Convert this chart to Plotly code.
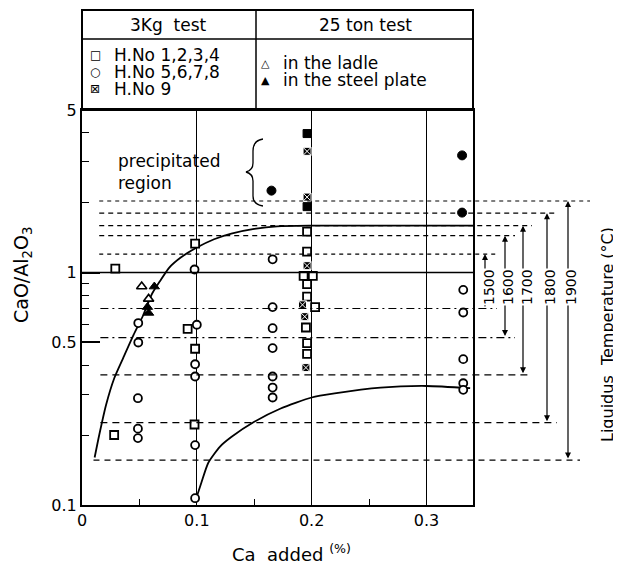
import numpy as np
import plotly.graph_objects as go

# ---------------- data ----------------
# H.No 1,2,3,4 (open squares)
sq_x = [0.029, 0.028, 0.0985, 0.092, 0.0985, 0.098,
        0.196, 0.196, 0.193, 0.201, 0.196, 0.196, 0.203, 0.195, 0.196, 0.196]
sq_y = [1.04, 0.20, 1.33, 0.572, 0.47, 0.222,
        1.50, 1.23, 0.968, 0.968, 0.891, 0.788, 0.71, 0.58, 0.497, 0.447]
# H.No 5,6,7,8 (open circles)
ci_x = [0.098, 0.049, 0.049, 0.100, 0.0985, 0.0985, 0.0487, 0.0487, 0.0487, 0.0985, 0.0985,
        0.166, 0.166, 0.166, 0.166, 0.166, 0.166, 0.166,
        0.332, 0.332, 0.332, 0.332, 0.332]
ci_y = [1.03, 0.606, 0.50, 0.596, 0.403, 0.357, 0.288, 0.213, 0.194, 0.181, 0.107,
        1.14, 0.71, 0.576, 0.473, 0.357, 0.32, 0.29,
        0.842, 0.673, 0.424, 0.334, 0.313]
# H.No 9 (hatched squares)
h9_x = [0.196, 0.196, 0.196, 0.192, 0.194, 0.195]
h9_y = [3.32, 2.11, 1.07, 0.726, 0.646, 0.39]
# precipitated samples (filled marks)
fsq_x = [0.196, 0.196]
fsq_y = [3.96, 1.92]
fci_x = [0.165, 0.331, 0.331]
fci_y = [2.25, 3.19, 1.81]
# 25 ton test
ladle_x = [0.052, 0.058]
ladle_y = [0.87, 0.77]
plate_x = [0.063, 0.057, 0.058]
plate_y = [0.87, 0.71, 0.67]

# boundary curves
up_x = [0.011, 0.015, 0.021, 0.028, 0.036, 0.045, 0.053, 0.061, 0.068, 0.076,
        0.086, 0.100, 0.115, 0.130, 0.150, 0.170, 0.200, 0.341]
up_y = [0.16, 0.20, 0.27, 0.35, 0.43, 0.54, 0.65, 0.81, 0.92, 1.05,
        1.16, 1.28, 1.39, 1.47, 1.54, 1.58, 1.59, 1.59]
lo_x = [0.099, 0.104, 0.110, 0.120, 0.130, 0.150, 0.173, 0.200, 0.220, 0.260, 0.300, 0.338]
lo_y = [0.105, 0.125, 0.152, 0.178, 0.196, 0.228, 0.260, 0.290, 0.302, 0.320, 0.325, 0.318]

# liquidus temperature ranges
temps = [1500, 1600, 1700, 1800, 1900]
t_top = [1.20, 1.44, 1.59, 1.80, 2.03]
t_bot = [0.70, 0.525, 0.363, 0.226, 0.156]

x_ticks = [0, 0.1, 0.2, 0.3]
x_labels = ["0", "0.1", "0.2", "0.3"]
y_ticks = [0.1, 0.5, 1, 5]
y_labels = ["0.1", "0.5", "1", "5"]

# ---------------- layout geometry ----------------
OFF = 8                      # page body margin of the browser
W, H = 621 - OFF, 566 - OFF
PL, PR, PT, PB = 82, 473, 110, 505   # plot frame in reference pixels
XMAX = 0.3405
FONT = "DejaVu Sans"


def px(x):
    return (x - PL) / (PR - PL)


def py(y):
    return (PB - y) / (PB - PT)


fig = go.Figure()

ink = "black"
fig.add_trace(go.Scatter(x=up_x, y=up_y, mode="lines", line=dict(color=ink, width=1.8, shape="spline", smoothing=0.6), hoverinfo="skip"))
fig.add_trace(go.Scatter(x=lo_x, y=lo_y, mode="lines", line=dict(color=ink, width=1.8, shape="spline", smoothing=0.6), hoverinfo="skip"))

mk = dict(size=8, color="white", line=dict(color=ink, width=1.8))
fig.add_trace(go.Scatter(x=sq_x, y=sq_y, mode="markers", marker=dict(symbol="square", **mk)))
fig.add_trace(go.Scatter(x=ci_x, y=ci_y, mode="markers", marker=dict(symbol="circle", **mk)))
fig.add_trace(go.Scatter(x=h9_x, y=h9_y, mode="markers",
                         marker=dict(symbol="square-x", size=8, color=ink, line=dict(color="white", width=1))))
fig.add_trace(go.Scatter(x=fsq_x, y=fsq_y, mode="markers",
                         marker=dict(symbol="square", size=8, color=ink, line=dict(color=ink, width=1))))
fig.add_trace(go.Scatter(x=fci_x, y=fci_y, mode="markers",
                         marker=dict(symbol="circle", size=9, color=ink, line=dict(color=ink, width=1))))
fig.add_trace(go.Scatter(x=ladle_x, y=ladle_y, mode="markers", marker=dict(symbol="triangle-up", size=9, color="white", line=dict(color=ink, width=1.6))))
fig.add_trace(go.Scatter(x=plate_x, y=plate_y, mode="markers", marker=dict(symbol="triangle-up", size=9, color=ink, line=dict(color=ink, width=1))))

shapes = []
annotations = []


def note(x, y, text, size, xanchor="center", yanchor="middle", **kw):
    d = dict(xref="paper", yref="paper", x=x, y=y, text=text, showarrow=False,
             xanchor=xanchor, yanchor=yanchor, font=dict(family=FONT, size=size, color=ink))
    d.update(kw)
    annotations.append(d)


# y = 1 reference line
shapes.append(dict(type="line", xref="paper", yref="y", x0=0, x1=1, y0=1, y1=1,
                   line=dict(color=ink, width=1.5)))

# liquidus iso-lines
arrow_px = [485, 505, 523, 547, 568]
label_px = [489, 508, 527, 550, 571]
end_top_px = [497, 515, 532, 557, 590]
end_bot_px = [497, 515, 532, 557, 580]
start_top_x = [0.015, 0.015, 0.015, 0.015, 0.015]
start_bot_x = [0.016, 0.016, 0.016, 0.016, 0.010]
dash_top = ["4px,4px", "5px,4px", "5px,4px", "5px,4px", "4px,4px"]
dash_bot = ["8px,4px,2px,4px", "8px,4px,2px,4px", "7px,5px", "7px,5px", "6px,5px"]
for i, t in enumerate(temps):
    shapes.append(dict(type="line", xref="paper", yref="y", x0=start_top_x[i] / XMAX, x1=px(end_top_px[i]),
                       y0=t_top[i], y1=t_top[i], line=dict(color=ink, width=1.2, dash=dash_top[i])))
    shapes.append(dict(type="line", xref="paper", yref="y", x0=start_bot_x[i] / XMAX, x1=px(end_bot_px[i]),
                       y0=t_bot[i], y1=t_bot[i], line=dict(color=ink, width=1.2, dash=dash_bot[i])))
    annotations.append(dict(xref="paper", yref="y", x=px(arrow_px[i]), y=np.log10(t_top[i]),
                            axref="pixel", ax=0, ayref="y", ay=np.log10(t_bot[i]), text="",
                            showarrow=True, arrowside="end+start", arrowhead=2, startarrowhead=2,
                            arrowsize=1, startarrowsize=1, arrowwidth=1.2, arrowcolor=ink, standoff=0, startstandoff=0))
for i, t in enumerate(temps):
    note(px(label_px[i]), py(287), str(t), 14, textangle=-90, bgcolor="white", borderpad=0)

# legend table
shapes.append(dict(type="rect", xref="paper", yref="paper", x0=0, x1=1, y0=1, y1=py(10),
                   line=dict(color=ink, width=2)))
shapes.append(dict(type="line", xref="paper", yref="paper", x0=0, x1=1, y0=py(39), y1=py(39),
                   line=dict(color=ink, width=1.5)))
shapes.append(dict(type="line", xref="paper", yref="paper", x0=px(256), x1=px(256), y0=1, y1=py(10),
                   line=dict(color=ink, width=1.5)))

note(px(168), py(25), "3Kg  test", 17)
note(px(365), py(25), "25 ton test", 17)
left_rows = [("□", "H.No 1,2,3,4", 55), ("○", "H.No 5,6,7,8", 72), ("⊠", "H.No 9", 89)]
right_rows = [("△", "in the ladle", 63), ("▲", "in the steel plate", 80)]
for sym, txt, yy in left_rows:
    note(px(95), py(yy), sym, 12)
    note(px(112), py(yy), txt, 17, xanchor="left")
for sym, txt, yy in right_rows:
    note(px(265), py(yy), sym, 11)
    note(px(281), py(yy), txt, 17, xanchor="left")

# precipitated region
note(px(116), py(172), "precipitated<br>region", 17, xanchor="left", align="left")
bp = [(263, 139), (256, 140), (253, 144), (253, 151), (253, 163), (253, 169), (250, 171), (246, 172),
      (250, 173), (253, 175), (253, 181), (253, 196), (253, 202), (256, 205), (263, 206)]
q = [(px(a), py(b)) for a, b in bp]
path = "M {0[0]},{0[1]} C {1[0]},{1[1]} {2[0]},{2[1]} {3[0]},{3[1]} L {4[0]},{4[1]} C {5[0]},{5[1]} {6[0]},{6[1]} {7[0]},{7[1]} " \
       "C {8[0]},{8[1]} {9[0]},{9[1]} {10[0]},{10[1]} L {11[0]},{11[1]} C {12[0]},{12[1]} {13[0]},{13[1]} {14[0]},{14[1]}".format(*q)
shapes.append(dict(type="path", xref="paper", yref="paper", path=path, line=dict(color=ink, width=1.3)))

# axis titles
note(px(22), py(275), "CaO/Al<sub>2</sub>O<sub>3</sub>", 19, textangle=-90)
note(px(291), py(553), "Ca  added <sup>(%)</sup>", 18)
note(px(607), py(335), "Liquidus  Temperature (°C)", 16, textangle=-90)

fig.update_layout(
    width=W, height=H,
    margin=dict(l=PL - OFF, r=W - (PR - OFF), t=PT - OFF, b=H - (PB - OFF), pad=0),
    paper_bgcolor="white", plot_bgcolor="white",
    showlegend=False,
    font=dict(family=FONT, color=ink, size=16),
    shapes=shapes, annotations=annotations,
    xaxis=dict(range=[0, XMAX], tickvals=x_ticks, ticktext=x_labels, ticks="", showgrid=True,
               gridcolor=ink, gridwidth=1.2, zeroline=False, showline=True, mirror=True,
               linecolor=ink, linewidth=2, tickfont=dict(size=16),
               minor=dict(tickvals=[0.05, 0.15, 0.25], ticks="inside", ticklen=6, tickcolor=ink, tickwidth=1.3, showgrid=False)),
    yaxis=dict(type="log", range=[-1, np.log10(5)], tickvals=y_ticks, ticktext=y_labels, ticks="inside",
               ticklen=18, tickwidth=1.5, tickcolor=ink, showgrid=False, zeroline=False, showline=True,
               mirror=True, linecolor=ink, linewidth=2, tickfont=dict(size=16),
               minor=dict(tickvals=[0.2, 0.3, 0.4, 0.6, 0.7, 0.8, 0.9, 2, 3, 4], ticks="inside", ticklen=7,
                          tickcolor=ink, tickwidth=1.3, showgrid=False)),
)

fig.write_html("out.html")
